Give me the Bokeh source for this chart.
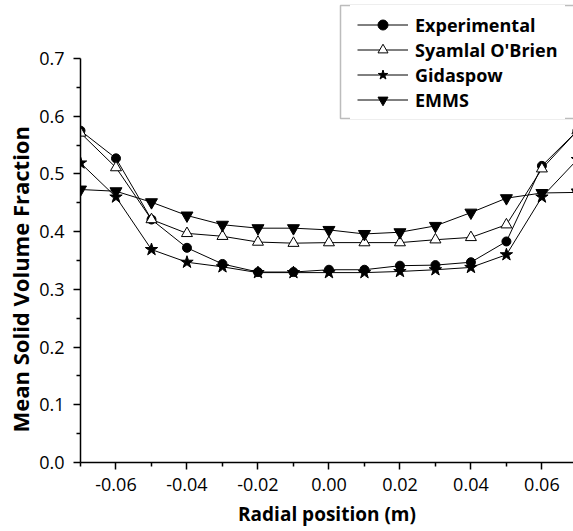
from bokeh.plotting import figure
from bokeh.models import (Legend, LegendItem, FixedTicker, PrintfTickFormatter,
                          Range1d, BoxAnnotation, Title)
from bokeh.embed import file_html
from bokeh.resources import INLINE

radial = [-0.07, -0.06, -0.05, -0.04, -0.03, -0.02, -0.01, 0.00,
          0.01, 0.02, 0.03, 0.04, 0.05, 0.06, 0.07]
experimental = [0.575, 0.527, 0.421, 0.372, 0.344, 0.330, 0.330, 0.334,
                0.334, 0.341, 0.342, 0.347, 0.383, 0.514, 0.575]
syamlal = [0.571, 0.511, 0.421, 0.397, 0.392, 0.382, 0.380, 0.381,
           0.381, 0.381, 0.386, 0.390, 0.412, 0.509, 0.575]
gidaspow = [0.519, 0.460, 0.369, 0.347, 0.339, 0.329, 0.329, 0.329,
            0.329, 0.331, 0.334, 0.338, 0.360, 0.460, 0.525]
emms = [0.473, 0.470, 0.451, 0.428, 0.412, 0.406, 0.406, 0.403,
        0.396, 0.399, 0.410, 0.433, 0.458, 0.467, 0.468]

x_ticks = [-0.06, -0.04, -0.02, 0.00, 0.02, 0.04, 0.06]
x_minor = [-0.07, -0.05, -0.03, -0.01, 0.01, 0.03, 0.05, 0.07]
y_ticks = [0.0, 0.1, 0.2, 0.3, 0.4, 0.5, 0.6, 0.7]
y_minor = [0.05, 0.15, 0.25, 0.35, 0.45, 0.55, 0.65]
y_axis_top = 0.7

FONT = "Open Sans"

p = figure(width=573, height=531, output_backend="svg", toolbar_location=None,
           x_range=Range1d(-0.07, 0.0689), y_range=Range1d(0.0, 0.8005),
           min_border_left=80, min_border_right=0, min_border_top=0,
           min_border_bottom=69)
p.outline_line_color = None
p.xgrid.visible = False
p.ygrid.visible = False
p.background_fill_color = "white"

series = [
    ("Experimental", experimental, "circle", 9, "black"),
    ("Syamlal O'Brien", syamlal, "triangle", 11, "white"),
    ("Gidaspow", gidaspow, "star", 13, "black"),
    ("EMMS", emms, "inverted_triangle", 12, "black"),
]

items = []
for name, ys, marker, size, fill in series:
    l = p.line(radial, ys, line_color="black", line_width=1)
    s = p.scatter(radial, ys, marker=marker, size=size, fill_color=fill,
                  line_color="black", line_width=1)
    items.append(LegendItem(label=name, renderers=[l, s]))

legend = Legend(items=items, location=(270, 343))
legend.label_text_font = FONT
legend.label_text_font_style = "bold"
legend.label_text_font_size = "18px"
legend.label_text_color = "black"
legend.glyph_width = 51
legend.glyph_height = 25
legend.label_height = 25
legend.label_standoff = 7
legend.spacing = 0
legend.padding = 7
legend.margin = 0
legend.border_line_alpha = 0
legend.background_fill_color = "white"
legend.background_fill_alpha = 1
p.add_layout(legend, "center")

box = BoxAnnotation(left=260, right=520, top=457, bottom=344,
                    left_units="screen", right_units="screen",
                    top_units="screen", bottom_units="screen",
                    fill_alpha=0, line_color="#222222", line_width=1.5)
p.add_layout(box)

for ax in (p.xaxis[0], p.yaxis[0]):
    ax.axis_line_width = 1.5
    ax.axis_line_color = "black"
    ax.major_tick_line_color = "black"
    ax.major_tick_line_width = 1.5
    ax.minor_tick_line_color = "black"
    ax.minor_tick_line_width = 1.5
    ax.major_tick_out = 7
    ax.major_tick_in = 0
    ax.minor_tick_out = 4
    ax.minor_tick_in = 0
    ax.major_label_text_font = FONT
    ax.major_label_text_font_size = "18px"
    ax.major_label_text_color = "black"
    ax.axis_label_text_font = FONT
    ax.axis_label_text_font_style = "bold"
    ax.axis_label_text_font_size = "19px"
    ax.axis_label_text_color = "black"

p.yaxis[0].bounds = (0, y_axis_top)
p.xaxis[0].ticker = FixedTicker(ticks=x_ticks, minor_ticks=x_minor)
p.yaxis[0].ticker = FixedTicker(ticks=y_ticks, minor_ticks=y_minor)
p.xaxis[0].formatter = PrintfTickFormatter(format="%.2f")
p.yaxis[0].formatter = PrintfTickFormatter(format="%.1f")
p.xaxis[0].axis_label = "Radial position (m)"
p.xaxis[0].major_label_standoff = 8
p.yaxis[0].major_label_standoff = 9
p.xaxis[0].axis_label_standoff = 7

ytitle = Title(text="Mean Solid Volume Fraction", align="left", offset=30,
               text_font=FONT, text_font_style="bold", text_font_size="22px",
               text_color="black", standoff=4)
p.add_layout(ytitle, "left")

open("out.html", "w").write(file_html(p, INLINE))
